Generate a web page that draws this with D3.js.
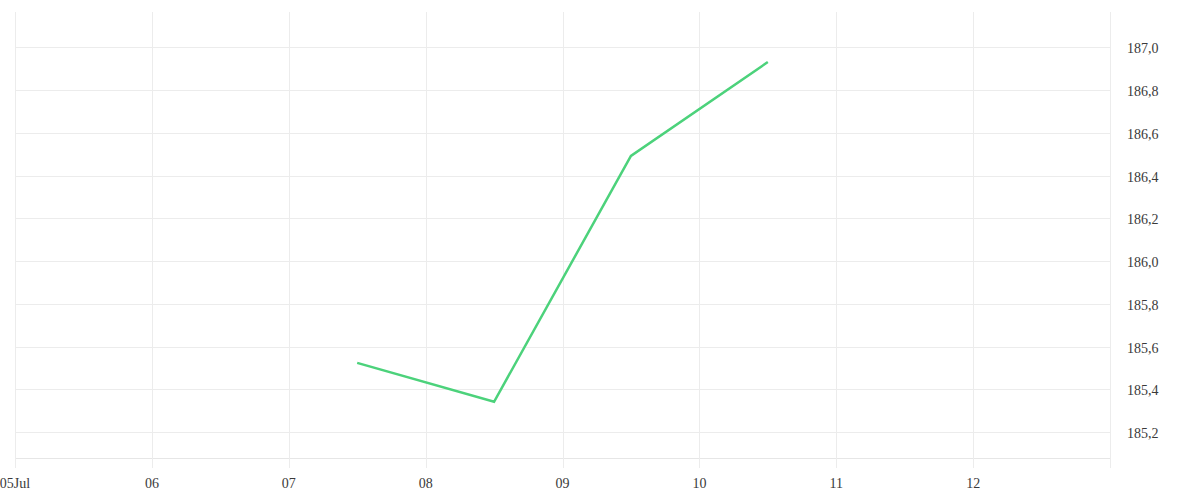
<!DOCTYPE html>
<html>
<head>
<meta charset="utf-8">
<script src="https://cdn.jsdelivr.net/npm/d3@7"></script>
<style>
  html, body { margin: 0; padding: 0; background: #fff; }
  svg { display: block; }
  text { font-family: "Liberation Serif", "DejaVu Serif", serif; font-size: 14px; fill: #3a3a3a; }
</style>
</head>
<body>
<svg id="chart" width="1200" height="500"></svg>
<script>
// Data
const dates = ["2024-07-07T12:00", "2024-07-08T12:00", "2024-07-09T12:00", "2024-07-10T12:00"];
const values = [185.524, 185.342, 186.492, 186.931];
const xTickDates = ["2024-07-05", "2024-07-06", "2024-07-07", "2024-07-08", "2024-07-09", "2024-07-10", "2024-07-11", "2024-07-12", "2024-07-13"];
const xTickLabels = ["05Jul", "06", "07", "08", "09", "10", "11", "12", ""];
const yTicks = [185.2, 185.4, 185.6, 185.8, 186.0, 186.2, 186.4, 186.6, 186.8, 187.0];

(function () {
const parse = d3.isoParse;
const svg = d3.select("#chart");
const pLeft = 15, pRight = 1110, pTop = 12, pBottom = 458;

const x = d3.scaleTime()
  .domain([parse("2024-07-05"), parse("2024-07-13")])
  .range([pLeft, pRight]);
const y = d3.scaleLinear()
  .domain([185.079, 187.165])
  .range([pBottom, pTop]);

const grid = svg.append("g");
grid.selectAll("line.h").data(yTicks).enter().append("line")
  .attr("x1", pLeft).attr("x2", pRight)
  .attr("y1", d => Math.round(y(d)) + 0.5).attr("y2", d => Math.round(y(d)) + 0.5)
  .attr("stroke", "#ececec").attr("stroke-width", 1);
grid.append("line")
  .attr("x1", pLeft).attr("x2", pRight)
  .attr("y1", pBottom + 0.5).attr("y2", pBottom + 0.5)
  .attr("stroke", "#e6e6e6");
grid.selectAll("line.v").data(xTickDates).enter().append("line")
  .attr("x1", d => Math.round(x(parse(d))) + 0.5).attr("x2", d => Math.round(x(parse(d))) + 0.5)
  .attr("y1", pTop).attr("y2", 468)
  .attr("stroke", "#ececec").attr("stroke-width", 1);

svg.append("g").selectAll("text").data(xTickDates).enter().append("text")
  .attr("x", d => x(parse(d)))
  .attr("y", 488)
  .attr("text-anchor", "middle")
  .text((d, i) => xTickLabels[i]);

svg.append("g").selectAll("text").data(yTicks).enter().append("text")
  .attr("x", 1127)
  .attr("y", d => y(d) + 6)
  .attr("text-anchor", "start")
  .text(d => d3.format(".1f")(d).replace(".", ","));

const line = d3.line()
  .x((d, i) => x(parse(dates[i])))
  .y(d => y(d));
svg.append("path")
  .datum(values)
  .attr("d", line)
  .attr("fill", "none")
  .attr("stroke", "#4cd27b")
  .attr("stroke-width", 2.5)
  .attr("stroke-linejoin", "miter");
})();
</script>
</body>
</html>
